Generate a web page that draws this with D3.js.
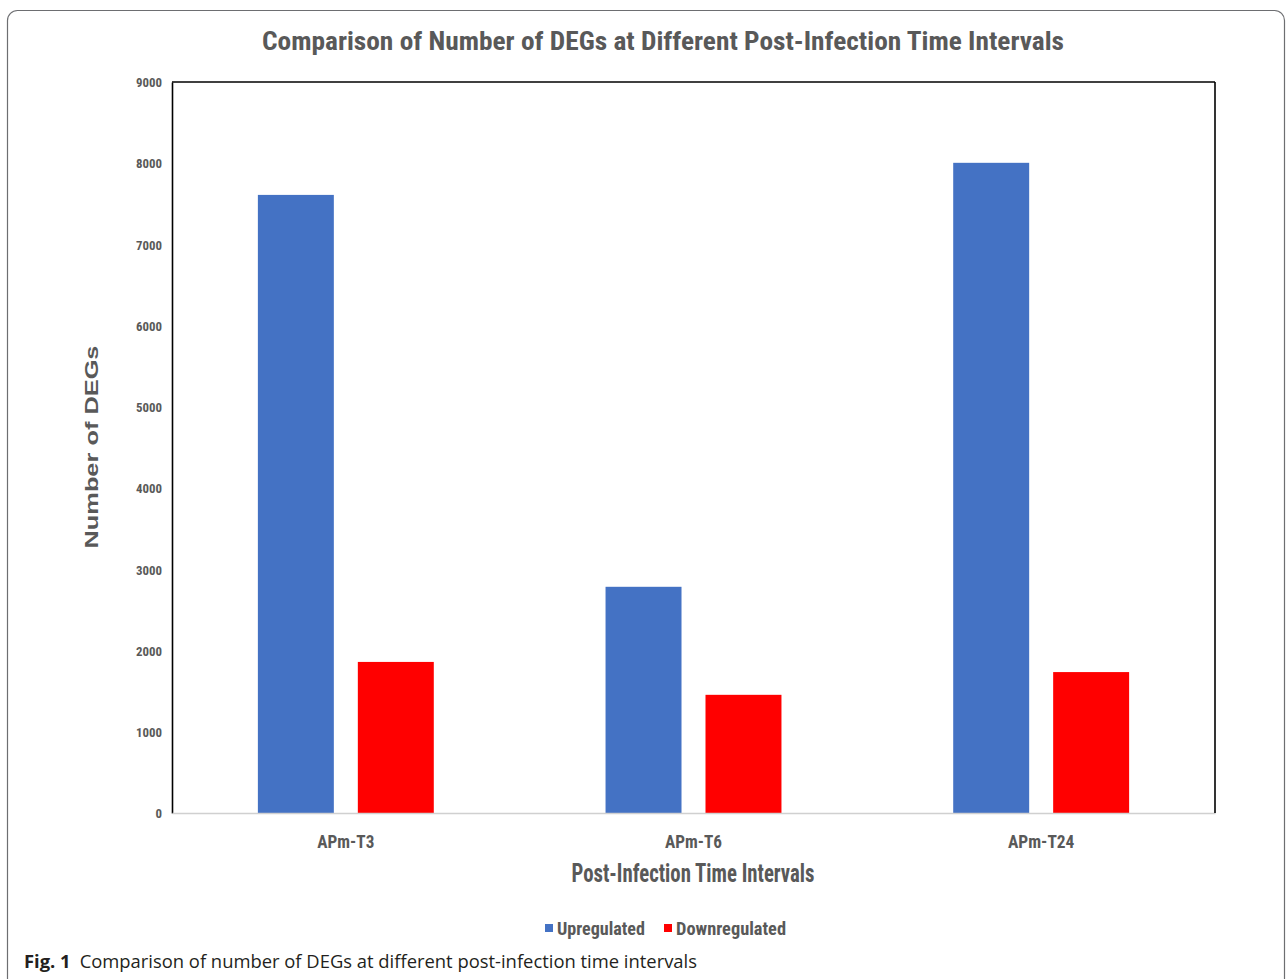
<!DOCTYPE html>
<html>
<head>
<meta charset="utf-8">
<script src="https://cdn.jsdelivr.net/npm/d3@7"></script>
<style>
  html, body { margin: 0; padding: 0; background: #fff; }
  svg { display: block; }
  .narrow { font-family: "Liberation Sans Narrow", "Arial Narrow", "Roboto Condensed", "Liberation Sans", Arial, sans-serif; font-weight: bold; }
</style>
</head>
<body>
<svg id="chart" width="1287" height="979"></svg>
<script>
// Number of differentially expressed genes per post-infection time point
const categories = ["APm-T3", "APm-T6", "APm-T24"];
const seriesNames = ["Upregulated", "Downregulated"];
const upregulated = [7610, 2785, 8005];
const downregulated = [1860, 1455, 1735];
const yTicks = [0, 1000, 2000, 3000, 4000, 5000, 6000, 7000, 8000, 9000];

const seriesColors = { "Upregulated": "#4472C4", "Downregulated": "#FF0000" };
const textGray = "#595959";

const rows = categories.map((c, i) => ({
  category: c,
  values: [
    { key: "Upregulated", value: upregulated[i] },
    { key: "Downregulated", value: downregulated[i] }
  ]
}));

const svg = d3.select("#chart");

// outer figure frame
svg.append("rect")
  .attr("x", 7.5).attr("y", 10.5)
  .attr("width", 1277).attr("height", 1000)
  .attr("rx", 10).attr("ry", 10)
  .attr("fill", "none")
  .attr("stroke", "#6d6e71")
  .attr("stroke-width", 1.2);

const plot = { left: 172, right: 1215, top: 82, bottom: 813 };

const y = d3.scaleLinear().domain([0, 9000]).range([plot.bottom, plot.top]);
const x0 = d3.scaleBand().domain(categories)
  .range([plot.left, plot.right])
  .paddingInner(0.494).paddingOuter(0.247);
const x1 = d3.scaleBand().domain(seriesNames)
  .range([0, x0.bandwidth()])
  .paddingInner(0.24);

// title
svg.append("text")
  .attr("class", "narrow")
  .attr("x", 663).attr("y", 50)
  .attr("text-anchor", "middle")
  .attr("font-size", 25)
  .attr("fill", textGray)
  .attr("textLength", 802)
  .attr("lengthAdjust", "spacingAndGlyphs")
  .text("Comparison of Number of DEGs at Different Post-Infection Time Intervals");

// bars
const groups = svg.append("g").selectAll("g")
  .data(rows).join("g")
  .attr("transform", d => `translate(${x0(d.category)},0)`);

groups.selectAll("rect")
  .data(d => d.values).join("rect")
  .attr("x", d => x1(d.key))
  .attr("y", d => y(d.value))
  .attr("width", x1.bandwidth())
  .attr("height", d => y(0) - y(d.value))
  .attr("fill", d => seriesColors[d.key]);

// y axis
const yAxis = svg.append("g")
  .attr("transform", `translate(${plot.left},0)`)
  .call(d3.axisLeft(y).tickValues(yTicks).tickSize(0).tickPadding(10).tickFormat(d3.format("d")));
yAxis.select(".domain").attr("stroke", "#000").attr("stroke-width", 1.6);
yAxis.selectAll(".tick text")
  .attr("class", "narrow")
  .attr("font-size", 13)
  .attr("fill", textGray)
  .attr("dy", "0.36em")
  .attr("textLength", d => String(d).length * 6.5)
  .attr("lengthAdjust", "spacingAndGlyphs");

// x axis
const xAxis = svg.append("g")
  .attr("transform", `translate(0,${plot.bottom})`)
  .call(d3.axisBottom(x0).tickSize(0).tickPadding(22));
xAxis.select(".domain").attr("stroke", "#d0d0d0").attr("stroke-width", 1.5);
xAxis.selectAll(".tick text")
  .attr("class", "narrow")
  .attr("font-size", 18)
  .attr("fill", textGray)
  .attr("textLength", d => d.length * 9.5)
  .attr("lengthAdjust", "spacingAndGlyphs");

// top and right frame of the plot area
svg.append("line")
  .attr("x1", plot.left).attr("x2", plot.right)
  .attr("y1", plot.top).attr("y2", plot.top)
  .attr("stroke", "#000").attr("stroke-width", 1.6);
svg.append("line")
  .attr("x1", plot.right).attr("x2", plot.right)
  .attr("y1", plot.top).attr("y2", plot.bottom)
  .attr("stroke", "#000").attr("stroke-width", 1.6);

// axis titles
svg.append("text")
  .attr("transform", "translate(98,447) rotate(-90)")
  .attr("text-anchor", "middle")
  .attr("font-family", "'Liberation Sans', Arial, sans-serif")
  .attr("font-weight", "bold")
  .attr("font-size", 19)
  .attr("fill", textGray)
  .attr("textLength", 203)
  .attr("lengthAdjust", "spacingAndGlyphs")
  .text("Number of DEGs");

svg.append("text")
  .attr("class", "narrow")
  .attr("x", 693).attr("y", 882)
  .attr("text-anchor", "middle")
  .attr("font-size", 25)
  .attr("fill", textGray)
  .attr("textLength", 243)
  .attr("lengthAdjust", "spacingAndGlyphs")
  .text("Post-Infection Time Intervals");

// legend
const legendItems = [
  { key: "Upregulated", x: 545, textW: 88 },
  { key: "Downregulated", x: 664, textW: 110 }
];
const legend = svg.append("g");
legend.selectAll("rect")
  .data(legendItems).join("rect")
  .attr("x", d => d.x).attr("y", 924)
  .attr("width", 8).attr("height", 8)
  .attr("fill", d => seriesColors[d.key]);
legend.selectAll("text")
  .data(legendItems).join("text")
  .attr("class", "narrow")
  .attr("x", d => d.x + 12).attr("y", 935)
  .attr("font-size", 19)
  .attr("fill", textGray)
  .attr("textLength", d => d.textW)
  .attr("lengthAdjust", "spacingAndGlyphs")
  .text(d => d.key);

// figure caption
const caption = svg.append("text")
  .attr("x", 24).attr("y", 968)
  .attr("font-family", "'Open Sans', 'Noto Sans', sans-serif")
  .attr("font-size", 18.4)
  .attr("fill", "#231f20");
caption.append("tspan").attr("font-weight", "bold").text("Fig. 1");
caption.append("tspan").attr("dx", 9)
  .text("Comparison of number of DEGs at different post-infection time intervals");
</script>
</body>
</html>
